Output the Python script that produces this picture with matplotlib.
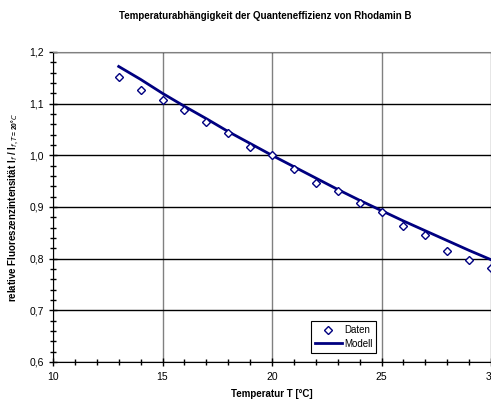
import numpy as np
import matplotlib
matplotlib.use("Agg")
import matplotlib.pyplot as plt
from matplotlib.ticker import MultipleLocator, FormatStrFormatter

temp = [13, 14, 15, 16, 17, 18, 19, 20, 21, 22, 23, 24, 25, 26, 27, 28, 29, 30]
daten = [1.151, 1.126, 1.108, 1.088, 1.065, 1.043, 1.017, 1.000, 0.974, 0.947,
         0.931, 0.908, 0.890, 0.863, 0.845, 0.815, 0.797, 0.782]
# model curve
modell = [1.172, 1.147, 1.120, 1.095, 1.071, 1.046, 1.023, 1.000, 0.978, 0.956,
          0.934, 0.913, 0.893, 0.873, 0.854, 0.835, 0.816, 0.798]

plt.rcParams['font.family'] = ['Liberation Sans', 'DejaVu Sans']
plt.rcParams['mathtext.fontset'] = 'custom'
plt.rcParams['mathtext.rm'] = 'Liberation Sans:bold'
plt.rcParams['mathtext.bf'] = 'Liberation Sans:bold'

fig = plt.figure(figsize=(4.91, 4.0), dpi=100)
ax = fig.add_axes([53/491, 38/400, 438/491, 310/400])

navy = '#000080'
ax.plot(temp, modell, color=navy, lw=2, label='Modell', zorder=3)
ax.plot(temp, daten, linestyle='none', marker='D', markersize=4.2,
        markerfacecolor='white', markeredgecolor=navy, markeredgewidth=1,
        label='Daten', zorder=4)

ax.set_xlim(10, 30)
ax.set_ylim(0.6, 1.2)
ax.xaxis.set_major_locator(MultipleLocator(5))
ax.xaxis.set_minor_locator(MultipleLocator(1))
ax.yaxis.set_major_locator(MultipleLocator(0.1))
ax.yaxis.set_minor_locator(MultipleLocator(0.02))
ax.yaxis.set_major_formatter(plt.FuncFormatter(lambda v, p: f"{v:.1f}".replace('.', ',')))

ax.grid(axis='y', which='major', color='black', lw=1)
ax.grid(axis='x', which='major', color='#808080', lw=1)
ax.set_axisbelow(True)
ax.tick_params(which='major', direction='inout', length=6, width=1, labelsize=7.5)
ax.tick_params(which='minor', direction='inout', length=4, width=1)
ax.tick_params(axis='x', pad=4)

ax.spines['right'].set_visible(False)
ax.spines['top'].set_color('#808080')

ax.set_xlabel('Temperatur T [°C]', fontsize=7, fontweight='bold', labelpad=5)
ax.set_ylabel(r'relative Fluoreszenzintensität I$_{f}$ / I$_{f,T=20°C}$',
              fontsize=7, fontweight='bold', labelpad=6)
fig.text(265/491, 0.972, 'Temperaturabhängigkeit der Quanteneffizienz von Rhodamin B',
         fontsize=7, fontweight='bold', ha='center', va='top')

handles, labels = ax.get_legend_handles_labels()
leg = ax.legend(handles[::-1], labels[::-1], loc='lower left',
                bbox_to_anchor=(0.589, 0.03), fontsize=7, frameon=True,
                fancybox=False, edgecolor='black', framealpha=1,
                handlelength=2.8, borderpad=0.4, labelspacing=0.4,
                handletextpad=0.2, borderaxespad=0)
leg.get_frame().set_linewidth(0.8)

fig.savefig('out.png', dpi=100)
